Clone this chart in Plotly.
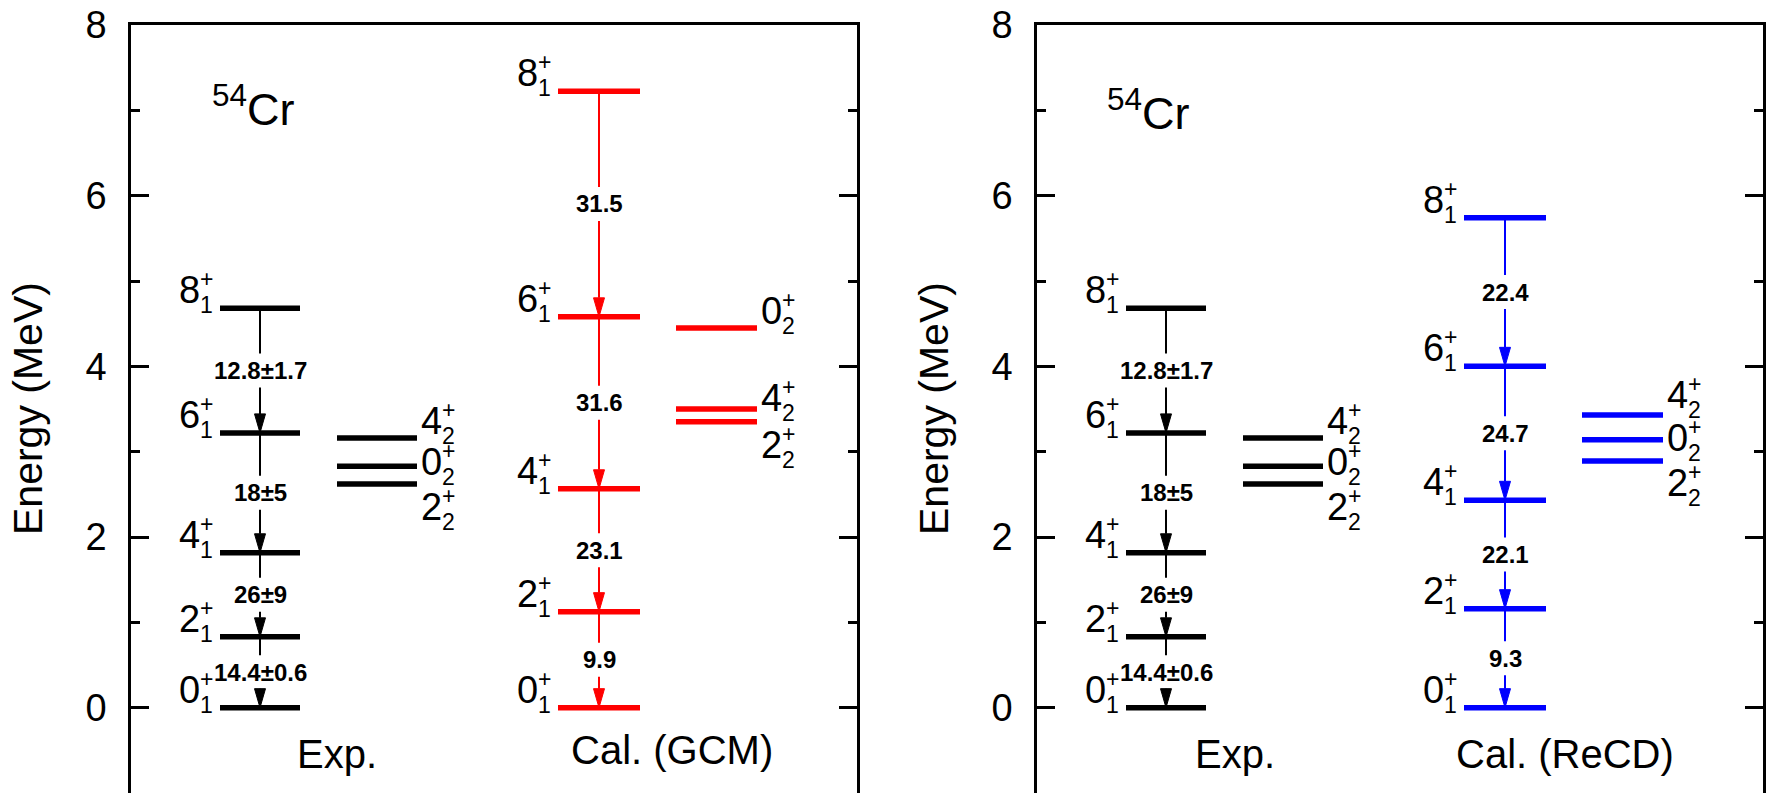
import plotly.graph_objects as go

# ---------------- data ----------------
spins_main = ["0", "2", "4", "6", "8"]
sub_main = "1"

exp_energy = [0.0, 0.83, 1.815, 3.22, 4.68]
exp_be2 = ["14.4±0.6", "26±9", "18±5", "12.8±1.7"]
exp_side_spins = ["4", "0", "2"]
exp_side_energy = [3.16, 2.83, 2.62]

gcm_energy = [0.0, 1.125, 2.565, 4.58, 7.225]
gcm_be2 = ["9.9", "23.1", "31.6", "31.5"]
gcm_side_spins = ["0", "4", "2"]
gcm_side_energy = [4.45, 3.50, 3.35]

recd_energy = [0.0, 1.16, 2.43, 4.0, 5.74]
recd_be2 = ["9.3", "22.1", "24.7", "22.4"]
recd_side_spins = ["4", "0", "2"]
recd_side_energy = [3.43, 3.14, 2.89]

y_tickvals = [0, 2, 4, 6, 8]
y_ticktext = ["0", "2", "4", "6", "8"]
y_minor = [-1, 1, 3, 5, 7]
nucleus = "<sup>54</sup>Cr"
y_title = "Energy (MeV)"
exp_name = "Exp."
gcm_name = "Cal. (GCM)"
recd_name = "Cal. (ReCD)"

# ---------------- layout / style ----------------
W, H = 1769, 793
M_TOP = 25
Y_MIN, Y_MAX = -1, 8
PX = (H - M_TOP) / (Y_MAX - Y_MIN)      # pixels per MeV
PANEL_W = 726                             # x units == pixels inside a panel
FONT = "Arial, 'Liberation Sans', sans-serif"
BLACK, RED, BLUE = "#000000", "#FF0000", "#0000FF"

MAIN_EXP = (89, 169)
SIDE_EXP = (206, 286)
MAIN_CAL = (427, 509)
SIDE_CAL = (545, 626)

LEVEL_W = 5.5
ARROW_W = 2
HEAD_L, HEAD_HW = 19, 5.5
GAP = 17
DIGIT_SIZE, SMALL_SIZE, BE2_SIZE = 38, 23, 24
MAIN_DY = 18
SS_DX = 17

fig = go.Figure()
annotations = []


def add_levels(xa, ya, x0, x1, energies, color):
    xs, ys = [], []
    for e in energies:
        xs += [x0, x1, None]
        ys += [e, e, None]
    fig.add_trace(go.Scatter(x=xs, y=ys, xaxis=xa, yaxis=ya, mode="lines",
                             line=dict(color=color, width=LEVEL_W),
                             hoverinfo="skip", showlegend=False))


def spin_label(xa, ya, x, e, spin, sub, dy):
    common = dict(xref=xa, yref=ya, x=x, y=e, showarrow=False,
                  xanchor="center", yanchor="middle")
    annotations.append(dict(common, text=spin, yshift=dy,
                            font=dict(family=FONT, size=DIGIT_SIZE, color=BLACK)))
    annotations.append(dict(common, text="+", xshift=SS_DX, yshift=dy + 11,
                            font=dict(family=FONT, size=SMALL_SIZE, color=BLACK)))
    annotations.append(dict(common, text=sub, xshift=SS_DX, yshift=dy - 15,
                            font=dict(family=FONT, size=SMALL_SIZE, color=BLACK)))


def add_main(xa, ya, energies, be2, color, col):
    x0, x1 = col
    xc = (x0 + x1) / 2
    add_levels(xa, ya, x0, x1, energies, color)
    for s, e in zip(spins_main, energies):
        spin_label(xa, ya, x0 - 31, e, s, sub_main, MAIN_DY)
    lx, ly, hx, hy = [], [], [], []
    g = GAP / PX
    hl = HEAD_L / PX
    for i, lab in enumerate(be2):
        lo, hi = energies[i], energies[i + 1]
        mid = (lo + hi) / 2
        lx += [xc, xc, None, xc, xc, None]
        ly += [hi, mid + g, None, mid - g, lo + hl, None]
        hx += [xc - HEAD_HW, xc + HEAD_HW, xc, xc - HEAD_HW, None]
        hy += [lo + hl, lo + hl, lo, lo + hl, None]
        annotations.append(dict(xref=xa, yref=ya, x=xc, y=mid, text="<b>" + lab + "</b>",
                                showarrow=False, xanchor="center", yanchor="middle",
                                font=dict(family=FONT, size=BE2_SIZE, color=BLACK)))
    fig.add_trace(go.Scatter(x=lx, y=ly, xaxis=xa, yaxis=ya, mode="lines",
                             line=dict(color=color, width=ARROW_W),
                             hoverinfo="skip", showlegend=False))
    fig.add_trace(go.Scatter(x=hx, y=hy, xaxis=xa, yaxis=ya, mode="lines",
                             fill="toself", fillcolor=color,
                             line=dict(color=color, width=1),
                             hoverinfo="skip", showlegend=False))


def add_side(xa, ya, spins, energies, color, col, dys):
    x0, x1 = col
    add_levels(xa, ya, x0, x1, energies, color)
    for s, e, dy in zip(spins, energies, dys):
        spin_label(xa, ya, x1 + 14, e, s, "2", dy)


# ---- left panel: Exp + GCM ----
add_main("x", "y", exp_energy, exp_be2, BLACK, MAIN_EXP)
add_side("x", "y", exp_side_spins, exp_side_energy, BLACK, SIDE_EXP, [17, 4, -23])
add_main("x", "y", gcm_energy, gcm_be2, RED, MAIN_CAL)
add_side("x", "y", gcm_side_spins, gcm_side_energy, RED, SIDE_CAL, [17, 11, -23])

# ---- right panel: Exp + ReCD ----
add_main("x2", "y2", exp_energy, exp_be2, BLACK, MAIN_EXP)
add_side("x2", "y2", exp_side_spins, exp_side_energy, BLACK, SIDE_EXP, [17, 4, -23])
add_main("x2", "y2", recd_energy, recd_be2, BLUE, MAIN_CAL)
add_side("x2", "y2", recd_side_spins, recd_side_energy, BLUE, SIDE_CAL, [20, 2, -22])

# ---- text labels ----
big = dict(family=FONT, size=40, color=BLACK)
for xa, ya, nx, ny, ex, cname, cx, cy in [
        ("x", "y", 79, 7.05, 206, gcm_name, 541, -0.50),
        ("x2", "y2", 68, 7.0, 198, recd_name, 528, -0.54)]:
    annotations.append(dict(xref=xa, yref=ya, x=nx, y=ny, text=nucleus, showarrow=False,
                            xanchor="left", yanchor="middle",
                            font=dict(family=FONT, size=45, color=BLACK)))
    annotations.append(dict(xref=xa, yref=ya, x=ex, y=-0.54, text=exp_name, showarrow=False,
                            xanchor="center", yanchor="middle", font=big))
    annotations.append(dict(xref=xa, yref=ya, x=cx, y=cy, text=cname, showarrow=False,
                            xanchor="center", yanchor="middle", font=big))

for tx in [28, 934]:
    annotations.append(dict(xref="paper", yref="paper", x=tx / W, y=0.5, text=y_title,
                            showarrow=False, textangle=-90, xanchor="center",
                            yanchor="middle", font=dict(family=FONT, size=41, color=BLACK)))

# ---- axes ----
doms = [[131 / W, 857 / W], [1037 / W, 1763 / W]]
for i, dom in enumerate(doms):
    sfx = "" if i == 0 else str(i + 1)
    fig.update_layout({
        "xaxis" + sfx: dict(domain=dom, range=[0, PANEL_W], anchor="y" + sfx, side="top",
                            showline=True, linecolor=BLACK, linewidth=2.5,
                            showgrid=False, zeroline=False, showticklabels=False,
                            ticks="", fixedrange=True),
        "yaxis" + sfx: dict(domain=[0, 1], range=[Y_MIN, Y_MAX], anchor="x" + sfx,
                            showline=True, mirror="ticks", linecolor=BLACK, linewidth=2.5,
                            ticks="inside", ticklen=18, tickwidth=2.5, tickcolor=BLACK,
                            tickvals=y_tickvals, ticktext=y_ticktext,
                            tickfont=dict(family=FONT, size=38, color=BLACK),
                            ticklabelstandoff=14,
                            minor=dict(ticks="inside", ticklen=9, tickwidth=2.5,
                                       tickcolor=BLACK, tickvals=y_minor),
                            showgrid=False, zeroline=False, fixedrange=True),
    })

fig.update_layout(width=W, height=H, margin=dict(l=0, r=0, t=M_TOP, b=0),
                  plot_bgcolor="white", paper_bgcolor="white",
                  annotations=annotations, showlegend=False)

fig.write_html("out.html")
